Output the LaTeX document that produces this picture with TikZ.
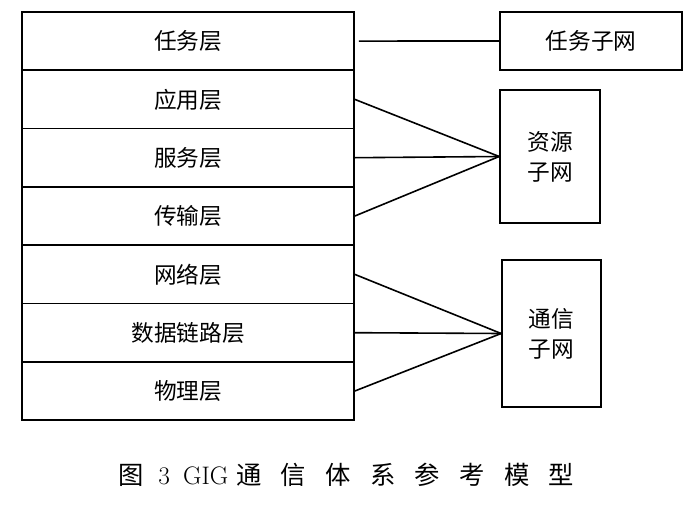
\documentclass[tikz,border=0pt]{standalone}
\usepackage{fontspec}
\newfontfamily\cjk{Noto Sans CJK SC}
\newcommand{\capsp}{\hspace{14.5pt}}
\tikzset{
  layer/.style={draw, line width=1.3pt, minimum width=249pt, minimum height=43.7pt, inner sep=0pt, font=\cjk\fontsize{17}{20}\selectfont},
  subnet/.style={draw, line width=1.3pt, inner sep=0pt, align=center, font=\cjk\fontsize{17}{22.5}\selectfont},
  link/.style={line width=1.2pt},
}
\begin{document}
\begin{tikzpicture}[x=0.75pt, y=-0.75pt]
\useasboundingbox (0,0) rectangle (697,507);
% layer stack
\node[layer] (task) at (188, 41.1) {任务层};
\node[layer] (app) at (188, 99.4) {应用层};
\node[layer] (svc) at (188, 157.7) {服务层};
\node[layer] (trans) at (188, 216) {传输层};
\node[layer] (net) at (188, 274.4) {网络层};
\node[layer] (dlink) at (188, 332.7) {数据链路层};
\node[layer] (phy) at (188, 391) {物理层};
% subnets
\node[subnet, minimum width=136.5pt, minimum height=43.5pt] (tasknet) at (591, 41) {任务子网};
\node[subnet, minimum width=75pt, minimum height=99.75pt] (resnet) at (550, 156.5) {资源\\子网};
\node[subnet, minimum width=74.25pt, minimum height=110.25pt] (comnet) at (551.5, 333.5) {通信\\子网};
% links
\draw[link, shorten <=3pt] (task) -- (tasknet);
\draw[link] (app.east) -- (resnet.west);
\draw[link] (svc.east) -- (resnet.west);
\draw[link] (trans.east) -- (resnet.west);
\draw[link] (net.east) -- (comnet.west);
\draw[link] (dlink.east) -- (comnet.west);
\draw[link] (phy.east) -- (comnet.west);
% caption
\node[anchor=west, inner sep=0pt, font=\fontsize{19}{22}\selectfont] (cap) at (118, 475) {{\cjk 图}\hspace{11pt}3\hspace{10pt}GIG\hspace{6pt}{\cjk 通\capsp 信\capsp 体\capsp 系\capsp 参\capsp 考\capsp 模\capsp 型}};
\end{tikzpicture}
\end{document}
